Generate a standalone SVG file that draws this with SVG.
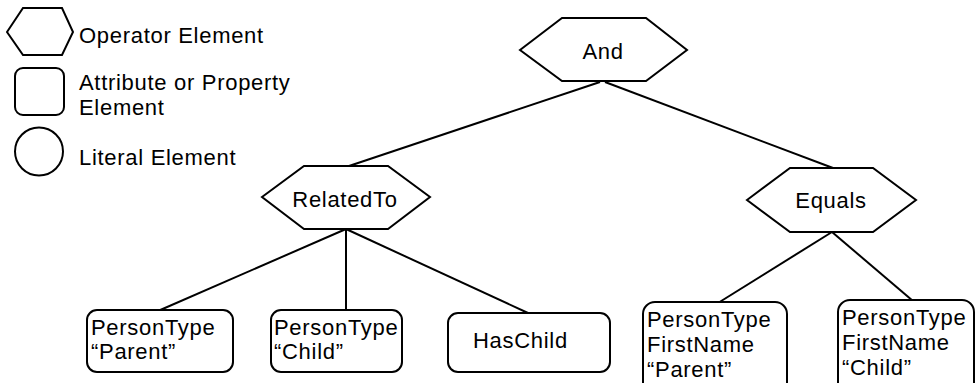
<svg xmlns="http://www.w3.org/2000/svg" width="976" height="383" viewBox="0 0 976 383">
<style>
.s{fill:#fff;stroke:#000;stroke-width:2}
.t{font-family:"Liberation Sans",Arial,sans-serif;font-size:22px;letter-spacing:0.7px;fill:#000}
.c{text-anchor:middle}
.l{stroke:#000;stroke-width:2;fill:none}
</style>
<rect width="976" height="383" fill="#fff"/>
<g id="legend">
<polygon class="s" points="7,32 23,8 62,8 73,32 62,55 23,55"/>
<rect class="s" x="15" y="68" width="49" height="47" rx="8"/>
<circle class="s" cx="39" cy="151.5" r="24"/>
<text class="t" x="79" y="43">Operator Element</text>
<text class="t" x="79" y="90">Attribute or Property</text>
<text class="t" x="79" y="115">Element</text>
<text class="t" x="79" y="165">Literal Element</text>
</g>
<g id="connectors">
<line class="l" x1="600" y1="82" x2="349" y2="166"/>
<line class="l" x1="605" y1="82" x2="833" y2="168"/>
<line class="l" x1="346" y1="229" x2="158" y2="311"/>
<line class="l" x1="346" y1="229" x2="346" y2="311"/>
<line class="l" x1="346" y1="229" x2="528" y2="313"/>
<line class="l" x1="832" y1="232" x2="718" y2="303"/>
<line class="l" x1="832" y1="232" x2="913" y2="301"/>
</g>
<g id="and">
<polygon class="s" points="520,50 562,18 646,18 687,50 646,81 562,81"/>
<text class="t c" x="603" y="59">And</text>
</g>
<g id="relatedto">
<polygon class="s" points="262,197 304,166 388,166 430,197 388,229 304,229"/>
<text class="t c" x="345" y="207">RelatedTo</text>
</g>
<g id="equals">
<polygon class="s" points="747,200 790,168 873,168 916,200 873,232 790,232"/>
<text class="t c" x="831" y="208">Equals</text>
</g>
<g id="persontype-parent">
<rect class="s" x="87" y="310" width="146" height="62" rx="10"/>
<text class="t" x="91" y="335">PersonType</text>
<text class="t" x="91" y="359">“Parent”</text>
</g>
<g id="persontype-child">
<rect class="s" x="271" y="310" width="131" height="62" rx="10"/>
<text class="t" x="274" y="335">PersonType</text>
<text class="t" x="274" y="359">“Child”</text>
</g>
<g id="haschild">
<rect class="s" x="448" y="313" width="162" height="59" rx="10"/>
<text class="t" x="473" y="348">HasChild</text>
</g>
<g id="firstname-parent">
<rect class="s" x="643" y="302" width="144" height="100" rx="12"/>
<text class="t" x="647" y="327">PersonType</text>
<text class="t" x="647" y="352">FirstName</text>
<text class="t" x="647" y="377">“Parent”</text>
</g>
<g id="firstname-child">
<rect class="s" x="838" y="300" width="136" height="100" rx="12"/>
<text class="t" x="842" y="325">PersonType</text>
<text class="t" x="842" y="350">FirstName</text>
<text class="t" x="842" y="375">“Child”</text>
</g>
</svg>
